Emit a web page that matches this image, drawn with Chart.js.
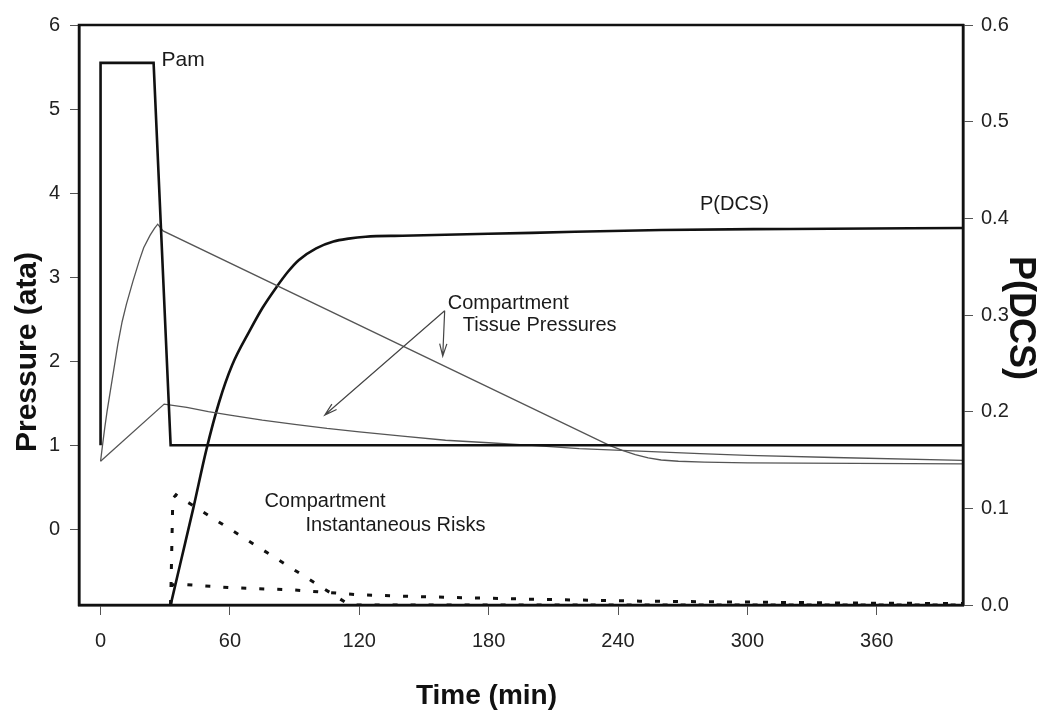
<!DOCTYPE html>
<html><head><meta charset="utf-8">
<script src="https://cdn.jsdelivr.net/npm/chart.js@4.4.1/dist/chart.umd.min.js"></script>
<style>html,body{margin:0;padding:0;background:#fff}#wrap{width:1047px;height:713px;position:relative}</style>
</head><body><div id="wrap"><canvas id="c"></canvas></div>
<script>
// ---- data ----
const pamTime = [0, 0, 24.6, 32.5, 400];
const pamPressure = [1.0, 5.55, 5.55, 1.0, 1.0];
const fastTime = [0, 1, 2, 3, 4, 6, 8, 10, 12, 15, 18, 20, 23, 25, 26.5, 29, 236, 242, 248, 254, 260, 268, 280, 300, 400];
const fastPressure = [0.81, 1.02, 1.22, 1.4, 1.56, 1.88, 2.2, 2.47, 2.68, 2.95, 3.2, 3.35, 3.5, 3.58, 3.63, 3.55, 1.0, 0.94, 0.89, 0.85, 0.825, 0.81, 0.80, 0.79, 0.78];
const slowTime = [0, 29.5, 40, 50, 60, 75, 90, 105, 120, 140, 160, 180, 200, 222, 250, 278, 300, 340, 400];
const slowPressure = [0.81, 1.49, 1.45, 1.40, 1.36, 1.30, 1.25, 1.20, 1.16, 1.11, 1.06, 1.03, 1.0, 0.96, 0.93, 0.90, 0.88, 0.855, 0.82];
const pdcsTime = [32.5, 37, 43, 49, 55, 61, 69, 75, 81, 87, 92, 100, 108, 115, 123, 140, 200, 260, 320, 400];
const pdcsValue = [0, 0.043, 0.1, 0.16, 0.21, 0.248, 0.283, 0.307, 0.327, 0.345, 0.357, 0.369, 0.376, 0.379, 0.381, 0.382, 0.385, 0.388, 0.389, 0.39];
const fastRiskTime = [32.5, 33.5, 35, 115.5, 400];
const fastRiskValue = [0, 0.11, 0.114, 0, 0];
const slowRiskTime = [32.5, 33, 40, 60, 90, 120, 150, 200, 250, 300, 350, 400];
const slowRiskValue = [0, 0.021, 0.021, 0.018, 0.0155, 0.0105, 0.0085, 0.006, 0.004, 0.003, 0.002, 0.0015];
const timeTicks = [0, 60, 120, 180, 240, 300, 360];
const pressureTicks = [0, 1, 2, 3, 4, 5, 6];
const pdcsTicks = [0, 0.1, 0.2, 0.3, 0.4, 0.5, 0.6];

const pts = (xs, ys) => xs.map((v, i) => ({x: v, y: ys[i]}));
const FONT = '"Liberation Sans", Arial, Helvetica, sans-serif';

const notes = [
  {text: 'Pam', t: 28.3, p: 5.58, size: 21},
  {text: 'P(DCS)', t: 278, p: 3.86, size: 20},
  {text: 'Compartment', t: 161, p: 2.69, size: 20},
  {text: 'Tissue Pressures', t: 168, p: 2.43, size: 20},
  {text: 'Compartment', t: 76, p: 0.33, size: 20},
  {text: 'Instantaneous Risks', t: 95, p: 0.05, size: 20}
];
const arrows = [
  {t0: 159.6, p0: 2.6, t1: 158.7, p1: 2.06},
  {t0: 159.6, p0: 2.6, t1: 104, p1: 1.36}
];

const annot = {
  id: 'annot',
  afterDatasetsDraw(chart) {
    const {ctx, chartArea: a, scales: {x, y}} = chart;
    ctx.save();
    ctx.strokeStyle = '#111'; ctx.lineWidth = 2.5;
    ctx.strokeRect(a.left, a.top, a.right - a.left, a.bottom - a.top);
    ctx.fillStyle = '#1a1a1a'; ctx.textBaseline = 'middle'; ctx.textAlign = 'left';
    for (const n of notes) {
      ctx.font = n.size + 'px ' + FONT;
      ctx.fillText(n.text, x.getPixelForValue(n.t), y.getPixelForValue(n.p));
    }
    ctx.strokeStyle = '#444'; ctx.lineWidth = 1.2;
    for (const ar of arrows) {
      const x0 = x.getPixelForValue(ar.t0), y0 = y.getPixelForValue(ar.p0);
      const x1 = x.getPixelForValue(ar.t1), y1 = y.getPixelForValue(ar.p1);
      const ang = Math.atan2(y1 - y0, x1 - x0), L = 13, w = 0.28;
      ctx.beginPath(); ctx.moveTo(x0, y0); ctx.lineTo(x1, y1);
      ctx.moveTo(x1 - L * Math.cos(ang - w), y1 - L * Math.sin(ang - w));
      ctx.lineTo(x1, y1);
      ctx.lineTo(x1 - L * Math.cos(ang + w), y1 - L * Math.sin(ang + w));
      ctx.stroke();
    }
    ctx.fillStyle = '#111'; ctx.textAlign = 'center';
    ctx.font = 'bold 30px ' + FONT;
    ctx.save(); ctx.translate(28, (a.top + a.bottom) / 2 + 37); ctx.rotate(-Math.PI / 2);
    ctx.fillText('Pressure (ata)', 0, 0); ctx.restore();
    ctx.font = 'bold 36px ' + FONT;
    ctx.save(); ctx.translate(1020, (a.top + a.bottom) / 2 + 3); ctx.rotate(Math.PI / 2);
    ctx.fillText('P(DCS)', 0, 0); ctx.restore();
    ctx.font = 'bold 28px ' + FONT;
    ctx.fillText('Time (min)', x.getPixelForValue(179), a.bottom + 91);
    ctx.restore();
  }
};

const axisCommon = {
  border: {display: true, color: '#111', width: 2.5},
  ticks: {color: '#222', font: {family: FONT, size: 20}}
};

new Chart(document.getElementById('c'), {
  type: 'line',
  data: {
    datasets: [
      {label: 'Pam', data: pts(pamTime, pamPressure), yAxisID: 'y', borderColor: '#111', borderWidth: 2.6, tension: 0},
      {label: 'Fast tissue', data: pts(fastTime, fastPressure), yAxisID: 'y', borderColor: '#555', borderWidth: 1.3, tension: 0},
      {label: 'Slow tissue', data: pts(slowTime, slowPressure), yAxisID: 'y', borderColor: '#555', borderWidth: 1.3, tension: 0},
      {label: 'P(DCS)', data: pts(pdcsTime, pdcsValue), yAxisID: 'y2', borderColor: '#111', borderWidth: 2.6, cubicInterpolationMode: 'monotone'},
      {label: 'Fast risk', data: pts(fastRiskTime, fastRiskValue), yAxisID: 'y2', borderColor: '#111', borderWidth: 3, borderDash: [5, 13], tension: 0},
      {label: 'Slow risk', data: pts(slowRiskTime, slowRiskValue), yAxisID: 'y2', borderColor: '#111', borderWidth: 3, borderDash: [5, 13], tension: 0}
    ]
  },
  options: {
    responsive: true, maintainAspectRatio: false, animation: false,
    layout: {padding: {top: 25, left: 0, right: 0, bottom: 0}},
    elements: {point: {radius: 0, hoverRadius: 0}},
    plugins: {legend: {display: false}, tooltip: {enabled: false}},
    events: [],
    scales: {
      x: {
        ...axisCommon, type: 'linear', position: 'bottom', min: -10, max: 400,
        grid: {drawOnChartArea: false, drawTicks: true, tickLength: 10, color: '#555', lineWidth: 1},
        ticks: {...axisCommon.ticks, padding: 14, maxRotation: 0},
        afterBuildTicks: s => { s.ticks = timeTicks.map(v => ({value: v})); },
        afterFit: s => { s.height = 108; }
      },
      y: {
        ...axisCommon, type: 'linear', position: 'left', min: -0.9, max: 6,
        grid: {drawOnChartArea: false, drawTicks: true, tickLength: 9, color: '#555', lineWidth: 1},
        ticks: {...axisCommon.ticks, padding: 10},
        afterBuildTicks: s => { s.ticks = pressureTicks.map(v => ({value: v})); },
        afterFit: s => { s.width = 79; }
      },
      y2: {
        ...axisCommon, type: 'linear', position: 'right', min: 0, max: 0.6,
        grid: {drawOnChartArea: false, drawTicks: true, tickLength: 10, color: '#555', lineWidth: 1},
        ticks: {...axisCommon.ticks, padding: 8, callback: v => v.toFixed(1)},
        afterBuildTicks: s => { s.ticks = pdcsTicks.map(v => ({value: v})); },
        afterFit: s => { s.width = 84; }
      }
    }
  },
  plugins: [annot]
});
</script></body></html>
